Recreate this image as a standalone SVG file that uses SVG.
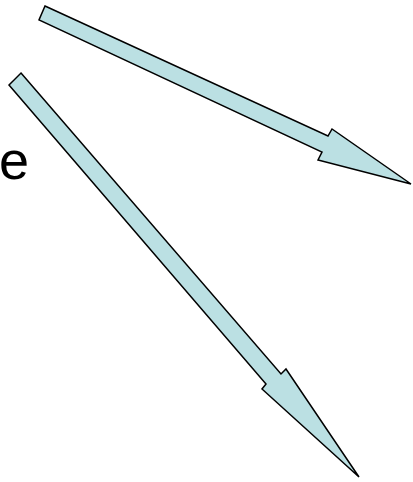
<svg xmlns="http://www.w3.org/2000/svg" width="413" height="482" viewBox="0 0 413 482">
<style>
.arrow{fill:#BBE0E3;stroke:#000;stroke-width:1.5;stroke-linejoin:miter}
.lbl{font-family:"Liberation Sans",Arial,sans-serif;font-size:54px;fill:#000}
</style>
<rect width="413" height="482" fill="#fff"/>
<g id="text-e"><text class="lbl" x="-1" y="178.5">e</text></g>
<g id="connectors">
<polygon id="arrow1" class="arrow" points="45,6 328,136 332,129 411,184 318,160 322,152 39,20"/>
<polygon id="arrow2" class="arrow" points="21,73 281,374 286,369 359,477 262,389 266,384 9,85"/>
</g>
</svg>
